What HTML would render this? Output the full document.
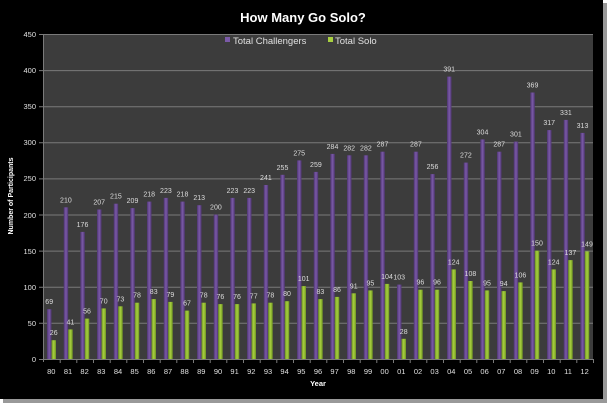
<!DOCTYPE html>
<html><head><meta charset="utf-8"><style>
html,body{margin:0;padding:0;background:#fff;}
svg{display:block;font-family:"Liberation Sans",sans-serif;}
</style></head><body>
<svg width="607" height="403" viewBox="0 0 607 403" xmlns="http://www.w3.org/2000/svg">
<defs>
<linearGradient id="pu" x1="0" x2="1" y1="0" y2="0"><stop offset="0" stop-color="#4e3572"/><stop offset="0.5" stop-color="#7b5aa8"/><stop offset="1" stop-color="#4e3572"/></linearGradient>
<linearGradient id="gr" x1="0" x2="1" y1="0" y2="0"><stop offset="0" stop-color="#6e9420"/><stop offset="0.5" stop-color="#a8d040"/><stop offset="1" stop-color="#6e9420"/></linearGradient>
</defs>
<rect x="0" y="0" width="607" height="403" fill="#fff"/>
<rect x="0" y="0" width="603" height="399" fill="#000"/>
<rect x="603" y="3" width="4" height="400" fill="#999"/>
<rect x="3" y="399" width="604" height="4" fill="#999"/>
<rect x="43" y="34" width="550" height="325" fill="#3c3c3c"/>
<g stroke="#7a7a7a" stroke-width="1">
<line x1="39" x2="593" y1="34.5" y2="34.5"/><line x1="39" x2="593" y1="70.6" y2="70.6"/><line x1="39" x2="593" y1="106.7" y2="106.7"/><line x1="39" x2="593" y1="142.8" y2="142.8"/><line x1="39" x2="593" y1="178.9" y2="178.9"/><line x1="39" x2="593" y1="215" y2="215"/><line x1="39" x2="593" y1="251.1" y2="251.1"/><line x1="39" x2="593" y1="287.2" y2="287.2"/><line x1="39" x2="593" y1="323.3" y2="323.3"/>
<line x1="43.5" x2="43.5" y1="34" y2="362"/>
<line x1="39" x2="593" y1="359.5" y2="359.5"/>
</g>
<g fill="#e0e0e0" font-size="7.5" text-anchor="end">
<text x="36" y="37">450</text><text x="36" y="73">400</text><text x="36" y="109">350</text><text x="36" y="145">300</text><text x="36" y="181">250</text><text x="36" y="218">200</text><text x="36" y="254">150</text><text x="36" y="290">100</text><text x="36" y="326">50</text><text x="36" y="362">0</text>
</g>
<text x="303" y="22" fill="#fff" font-size="13" font-weight="bold" text-anchor="middle">How Many Go Solo?</text>
<rect x="225" y="37" width="5" height="5" fill="#7b5aa8"/>
<text x="233" y="44" fill="#e0e0e0" font-size="9.5">Total Challengers</text>
<rect x="328" y="37" width="5" height="5" fill="#a8d040"/>
<text x="335" y="44" fill="#e0e0e0" font-size="9.5">Total Solo</text>
<text transform="translate(13,196) rotate(-90)" fill="#fff" font-size="7" font-weight="bold" text-anchor="middle">Number of Participants</text>
<text x="318" y="386" fill="#fff" font-size="7.5" font-weight="bold" text-anchor="middle">Year</text>
<g id="bars">
<g fill="url(#pu)">
<rect x="47.0" y="309.2" width="4.5" height="49.8"/><rect x="63.7" y="207.3" width="4.5" height="151.7"/><rect x="80.3" y="231.9" width="4.5" height="127.1"/><rect x="97.0" y="209.5" width="4.5" height="149.5"/><rect x="113.7" y="203.7" width="4.5" height="155.3"/><rect x="130.3" y="208.1" width="4.5" height="150.9"/><rect x="147.0" y="201.6" width="4.5" height="157.4"/><rect x="163.7" y="197.9" width="4.5" height="161.1"/><rect x="180.3" y="201.6" width="4.5" height="157.4"/><rect x="197.0" y="205.2" width="4.5" height="153.8"/><rect x="213.7" y="214.6" width="4.5" height="144.4"/><rect x="230.3" y="197.9" width="4.5" height="161.1"/><rect x="247.0" y="197.9" width="4.5" height="161.1"/><rect x="263.7" y="185.0" width="4.5" height="174.0"/><rect x="280.3" y="174.8" width="4.5" height="184.2"/><rect x="297.0" y="160.4" width="4.5" height="198.6"/><rect x="313.7" y="171.9" width="4.5" height="187.1"/><rect x="330.3" y="153.9" width="4.5" height="205.1"/><rect x="347.0" y="155.3" width="4.5" height="203.7"/><rect x="363.7" y="155.3" width="4.5" height="203.7"/><rect x="380.3" y="151.7" width="4.5" height="207.3"/><rect x="397.0" y="284.6" width="4.5" height="74.4"/><rect x="413.7" y="151.7" width="4.5" height="207.3"/><rect x="430.3" y="174.1" width="4.5" height="184.9"/><rect x="447.0" y="76.6" width="4.5" height="282.4"/><rect x="463.7" y="162.6" width="4.5" height="196.4"/><rect x="480.3" y="139.4" width="4.5" height="219.6"/><rect x="497.0" y="151.7" width="4.5" height="207.3"/><rect x="513.7" y="141.6" width="4.5" height="217.4"/><rect x="530.3" y="92.5" width="4.5" height="266.5"/><rect x="547.0" y="130.1" width="4.5" height="228.9"/><rect x="563.7" y="119.9" width="4.5" height="239.1"/><rect x="580.3" y="132.9" width="4.5" height="226.1"/>
</g>
<g fill="url(#gr)">
<rect x="51.5" y="340.2" width="4.5" height="18.8"/><rect x="68.2" y="329.4" width="4.5" height="29.6"/><rect x="84.8" y="318.6" width="4.5" height="40.4"/><rect x="101.5" y="308.4" width="4.5" height="50.6"/><rect x="118.2" y="306.3" width="4.5" height="52.7"/><rect x="134.8" y="302.7" width="4.5" height="56.3"/><rect x="151.5" y="299.1" width="4.5" height="59.9"/><rect x="168.2" y="301.9" width="4.5" height="57.1"/><rect x="184.8" y="310.6" width="4.5" height="48.4"/><rect x="201.5" y="302.7" width="4.5" height="56.3"/><rect x="218.2" y="304.1" width="4.5" height="54.9"/><rect x="234.8" y="304.1" width="4.5" height="54.9"/><rect x="251.5" y="303.4" width="4.5" height="55.6"/><rect x="268.2" y="302.7" width="4.5" height="56.3"/><rect x="284.8" y="301.2" width="4.5" height="57.8"/><rect x="301.5" y="286.1" width="4.5" height="72.9"/><rect x="318.2" y="299.1" width="4.5" height="59.9"/><rect x="334.8" y="296.9" width="4.5" height="62.1"/><rect x="351.5" y="293.3" width="4.5" height="65.7"/><rect x="368.2" y="290.4" width="4.5" height="68.6"/><rect x="384.8" y="283.9" width="4.5" height="75.1"/><rect x="401.5" y="338.8" width="4.5" height="20.2"/><rect x="418.2" y="289.7" width="4.5" height="69.3"/><rect x="434.8" y="289.7" width="4.5" height="69.3"/><rect x="451.5" y="269.4" width="4.5" height="89.6"/><rect x="468.2" y="281.0" width="4.5" height="78.0"/><rect x="484.8" y="290.4" width="4.5" height="68.6"/><rect x="501.5" y="291.1" width="4.5" height="67.9"/><rect x="518.2" y="282.4" width="4.5" height="76.6"/><rect x="534.8" y="250.7" width="4.5" height="108.3"/><rect x="551.5" y="269.4" width="4.5" height="89.6"/><rect x="568.2" y="260.1" width="4.5" height="98.9"/><rect x="584.8" y="251.4" width="4.5" height="107.6"/>
</g>
</g>
<g fill="#dcdcdc" font-size="7" text-anchor="middle">
<text x="49.2" y="304.2">69</text><text x="65.9" y="202.3">210</text><text x="82.5" y="226.9">176</text><text x="99.2" y="204.5">207</text><text x="115.9" y="198.7">215</text><text x="132.5" y="203.1">209</text><text x="149.2" y="196.6">218</text><text x="165.9" y="192.9">223</text><text x="182.5" y="196.6">218</text><text x="199.2" y="200.2">213</text><text x="215.9" y="209.6">200</text><text x="232.5" y="192.9">223</text><text x="249.2" y="192.9">223</text><text x="265.9" y="180.0">241</text><text x="282.5" y="169.8">255</text><text x="299.2" y="155.4">275</text><text x="315.9" y="166.9">259</text><text x="332.5" y="148.9">284</text><text x="349.2" y="150.3">282</text><text x="365.9" y="150.3">282</text><text x="382.5" y="146.7">287</text><text x="399.2" y="279.6">103</text><text x="415.9" y="146.7">287</text><text x="432.5" y="169.1">256</text><text x="449.2" y="71.6">391</text><text x="465.9" y="157.6">272</text><text x="482.5" y="134.4">304</text><text x="499.2" y="146.7">287</text><text x="515.9" y="136.6">301</text><text x="532.5" y="87.5">369</text><text x="549.2" y="125.1">317</text><text x="565.9" y="114.9">331</text><text x="582.5" y="127.9">313</text>
<text x="53.7" y="335.2">26</text><text x="70.4" y="324.4">41</text><text x="87.0" y="313.6">56</text><text x="103.7" y="303.4">70</text><text x="120.4" y="301.3">73</text><text x="137.0" y="297.7">78</text><text x="153.7" y="294.1">83</text><text x="170.4" y="296.9">79</text><text x="187.0" y="305.6">67</text><text x="203.7" y="297.7">78</text><text x="220.4" y="299.1">76</text><text x="237.0" y="299.1">76</text><text x="253.7" y="298.4">77</text><text x="270.4" y="297.7">78</text><text x="287.0" y="296.2">80</text><text x="303.7" y="281.1">101</text><text x="320.4" y="294.1">83</text><text x="337.0" y="291.9">86</text><text x="353.7" y="288.3">91</text><text x="370.4" y="285.4">95</text><text x="387.0" y="278.9">104</text><text x="403.7" y="333.8">28</text><text x="420.4" y="284.7">96</text><text x="437.0" y="284.7">96</text><text x="453.7" y="264.4">124</text><text x="470.4" y="276.0">108</text><text x="487.0" y="285.4">95</text><text x="503.7" y="286.1">94</text><text x="520.4" y="277.4">106</text><text x="537.0" y="245.7">150</text><text x="553.7" y="264.4">124</text><text x="570.4" y="255.1">137</text><text x="587.0" y="246.4">149</text>
</g>
<g stroke="#7a7a7a">
<line x1="60.2" x2="60.2" y1="359" y2="363"/><line x1="76.8" x2="76.8" y1="359" y2="363"/><line x1="93.5" x2="93.5" y1="359" y2="363"/><line x1="110.2" x2="110.2" y1="359" y2="363"/><line x1="126.8" x2="126.8" y1="359" y2="363"/><line x1="143.5" x2="143.5" y1="359" y2="363"/><line x1="160.2" x2="160.2" y1="359" y2="363"/><line x1="176.8" x2="176.8" y1="359" y2="363"/><line x1="193.5" x2="193.5" y1="359" y2="363"/><line x1="210.2" x2="210.2" y1="359" y2="363"/><line x1="226.8" x2="226.8" y1="359" y2="363"/><line x1="243.5" x2="243.5" y1="359" y2="363"/><line x1="260.2" x2="260.2" y1="359" y2="363"/><line x1="276.8" x2="276.8" y1="359" y2="363"/><line x1="293.5" x2="293.5" y1="359" y2="363"/><line x1="310.2" x2="310.2" y1="359" y2="363"/><line x1="326.8" x2="326.8" y1="359" y2="363"/><line x1="343.5" x2="343.5" y1="359" y2="363"/><line x1="360.2" x2="360.2" y1="359" y2="363"/><line x1="376.8" x2="376.8" y1="359" y2="363"/><line x1="393.5" x2="393.5" y1="359" y2="363"/><line x1="410.2" x2="410.2" y1="359" y2="363"/><line x1="426.8" x2="426.8" y1="359" y2="363"/><line x1="443.5" x2="443.5" y1="359" y2="363"/><line x1="460.2" x2="460.2" y1="359" y2="363"/><line x1="476.8" x2="476.8" y1="359" y2="363"/><line x1="493.5" x2="493.5" y1="359" y2="363"/><line x1="510.2" x2="510.2" y1="359" y2="363"/><line x1="526.8" x2="526.8" y1="359" y2="363"/><line x1="543.5" x2="543.5" y1="359" y2="363"/><line x1="560.2" x2="560.2" y1="359" y2="363"/><line x1="576.8" x2="576.8" y1="359" y2="363"/><line x1="593.5" x2="593.5" y1="359" y2="363"/>
</g>
<g fill="#e0e0e0" font-size="7.5" text-anchor="middle">
<text x="51.3" y="374">80</text><text x="68.0" y="374">81</text><text x="84.6" y="374">82</text><text x="101.3" y="374">83</text><text x="118.0" y="374">84</text><text x="134.6" y="374">85</text><text x="151.3" y="374">86</text><text x="168.0" y="374">87</text><text x="184.6" y="374">88</text><text x="201.3" y="374">89</text><text x="218.0" y="374">90</text><text x="234.6" y="374">91</text><text x="251.3" y="374">92</text><text x="268.0" y="374">93</text><text x="284.6" y="374">94</text><text x="301.3" y="374">95</text><text x="318.0" y="374">96</text><text x="334.6" y="374">97</text><text x="351.3" y="374">98</text><text x="368.0" y="374">99</text><text x="384.6" y="374">00</text><text x="401.3" y="374">01</text><text x="418.0" y="374">02</text><text x="434.6" y="374">03</text><text x="451.3" y="374">04</text><text x="468.0" y="374">05</text><text x="484.6" y="374">06</text><text x="501.3" y="374">07</text><text x="518.0" y="374">08</text><text x="534.6" y="374">09</text><text x="551.3" y="374">10</text><text x="568.0" y="374">11</text><text x="584.6" y="374">12</text>
</g>
</svg>
</body></html>
